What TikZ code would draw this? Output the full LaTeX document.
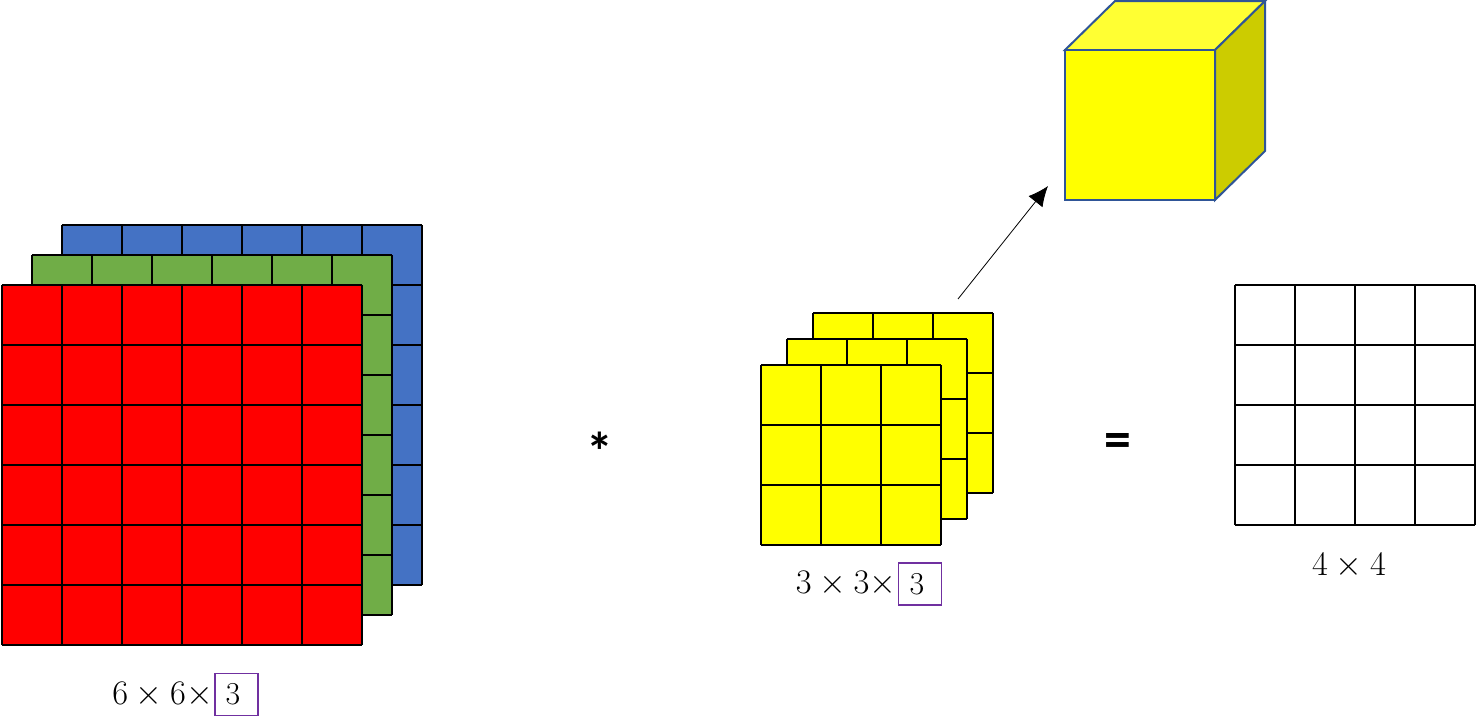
\documentclass[tikz,border=0pt]{standalone}
\usepackage{fontspec}
\newfontfamily\opfont{Carlito}
\usetikzlibrary{arrows.meta}
\usetikzlibrary{positioning}

\definecolor{chRed}{HTML}{FF0000}
\definecolor{chGreen}{HTML}{70AD47}
\definecolor{chBlue}{HTML}{4472C4}
\definecolor{kYellow}{HTML}{FFFF00}
\definecolor{kTop}{HTML}{FFFF33}
\definecolor{kSide}{HTML}{CCCC00}
\definecolor{kEdge}{HTML}{2F5597}
\definecolor{boxPurple}{HTML}{7030A0}

\tikzset{
  cell/.style={line width=1bp},
  dimlabel/.style={font=\fontsize{16}{19}\selectfont, inner sep=0pt},
  chanbox/.style={draw=boxPurple, line width=0.8bp, minimum width=21.5bp,
    minimum height=21bp, inner sep=0pt, font=\fontsize{16}{19}\selectfont},
  opsign/.style={font=\opfont\bfseries\fontsize{27}{30}\selectfont, inner sep=0pt}
}

\begin{document}
\begin{tikzpicture}[x=0.5bp, y=-0.5bp]
  \useasboundingbox (0,0) rectangle (1478,719);

  % input volume 6x6x3
  \foreach \dx/\col in {60/chBlue,30/chGreen,0/chRed} {
    \fill [\col] (2+\dx,285-\dx) rectangle +(360,360);
    \foreach \i in {0,...,6} {
      \draw [cell] (2+\dx+60*\i,285-\dx) -- +(0,360);
      \draw [cell] (2+\dx,285-\dx+60*\i) -- +(360,0);
    }
  }

  % filter 3x3x3
  \foreach \dx in {52,26,0} {
    \fill [kYellow] (761+\dx,365-\dx) rectangle +(180,180);
    \foreach \i in {0,...,3} {
      \draw [cell] (761+\dx+60*\i,365-\dx) -- +(0,180);
      \draw [cell] (761+\dx,365-\dx+60*\i) -- +(180,0);
    }
  }

  % output 4x4
  \foreach \i in {0,...,4} {
    \draw [cell] (1235+60*\i,285) -- +(0,240);
    \draw [cell] (1235,285+60*\i) -- +(240,0);
  }

  % cube
  \draw [kEdge, line width=1bp, fill=kTop] (1065,50) -- (1115,1) -- (1265,1) -- (1215,50) -- cycle;
  \draw [kEdge, line width=1bp, fill=kSide] (1215,50) -- (1265,1) -- (1265,151) -- (1215,200) -- cycle;
  \draw [kEdge, line width=1bp, fill=kYellow] (1065,50) rectangle (1215,200);

  \coordinate (F) at (958,299);
  \coordinate (C) at (1048,186);
  \draw [-{Latex[length=10bp,width=9bp]}, line width=0.4bp] (F) -- (C);

  % operators
  \node [opsign] (conv) at (600,451) {*};
  \node [opsign] (eq) at (1118,445) {=};

  % labels
  \node [chanbox] (inchan) at (236.5,694.5) {\hspace*{4.5bp}3\hspace*{8bp}};
  \node [dimlabel, left=0.5bp of inchan] (insize) {$6\times 6\times$};
  \node [chanbox] (fchan) at (920,584) {\hspace*{3bp}3\hspace*{6bp}};
  \node [dimlabel, left=0.5bp of fchan] (fsize) {$3\times 3\times$};
  \node [dimlabel] (outsize) at (1349,566) {$4\times 4$};
\end{tikzpicture}
\end{document}
